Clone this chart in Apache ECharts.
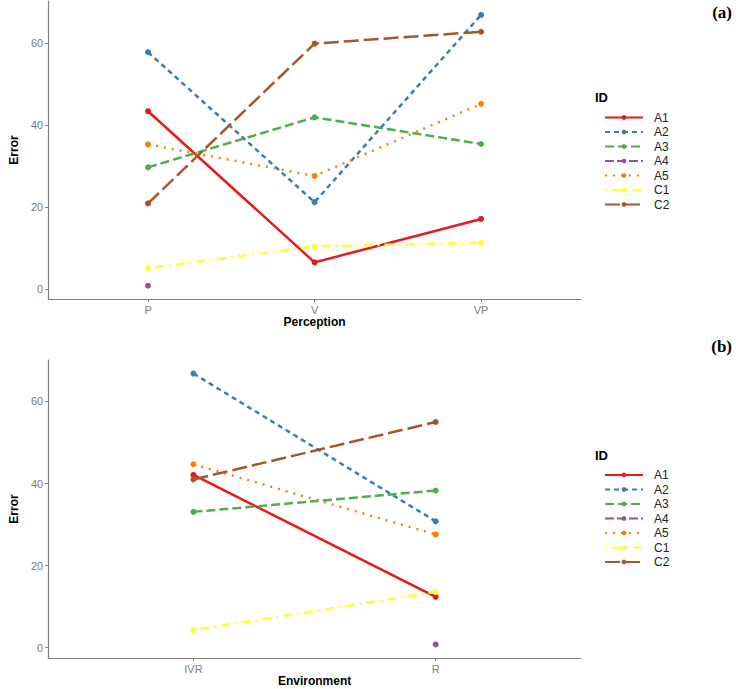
<!DOCTYPE html>
<html><head><meta charset="utf-8">
<script src="https://cdn.jsdelivr.net/npm/echarts@6/dist/echarts.min.js"></script>
<style>html,body{margin:0;padding:0;background:#fff}#c{width:736px;height:689px}</style>
</head><body><div id="c"></div>
<script>
// ---- data ----
const ids = ['A1','A2','A3','A4','A5','C1','C2'];
const perceptionCats = ['P','V','VP'];
const environmentCats = ['IVR','R'];
const errorTicks = [0, 20, 40, 60];

// Panel (a): Error by Perception (P, V, VP)
const percA1 = [43.4, 6.5, 17.1];
const percA2 = [57.8, 21.2, 66.9];
const percA3 = [29.7, 41.9, 35.4];
const percA4 = [0.8, null, null];
const percA5 = [35.3, 27.6, 45.2];
const percC1 = [5.1, 10.4, 11.3];
const percC2 = [20.9, 59.9, 62.8];

// Panel (b): Error by Environment (IVR, R)
const envA1 = [42.1, 12.4];
const envA2 = [66.8, 30.8];
const envA3 = [33.1, 38.3];
const envA4 = [null, 0.8];
const envA5 = [44.7, 27.6];
const envC1 = [4.3, 13.6];
const envC2 = [41.0, 55.0];

const percValues = [percA1, percA2, percA3, percA4, percA5, percC1, percC2];
const envValues = [envA1, envA2, envA3, envA4, envA5, envC1, envC2];

// ---- styles ----
const colors = ['#E41A1C','#377EB8','#4DAF4A','#984EA3','#FF7F00','#FFFF33','#A65628'];
const dashes = ['solid',[5,4],[9,4],[9,3],[2,6],[2,5,9,5],[15,5]];

function toPoints(vals){
  const out = [];
  vals.forEach((v,i)=>{ if(v!==null) out.push([i+1, v]); });
  return out;
}
function buildSeries(valsList, gi){
  return ids.map((id,k)=>({
    name: id, type: 'line', xAxisIndex: gi, yAxisIndex: gi,
    data: toPoints(valsList[k]),
    symbol: 'circle', symbolSize: 6, showSymbol: true, showAllSymbol: true,
    color: colors[k],
    lineStyle: {color: colors[k], width: 2.5, type: dashes[k]},
    itemStyle: {color: colors[k]},
    emphasis: {disabled: true}, animation: false, clip: false
  }));
}
function yAxis(gi, mn, mx){
  return {
    type: 'value', gridIndex: gi, min: mn, max: mx,
    name: 'Error', nameLocation: 'middle', nameGap: 21, nameRotate: 90,
    nameTextStyle: {fontFamily: 'Liberation Sans', fontWeight: 'bold', fontSize: 12, color: '#000'},
    axisLine: {show: true, lineStyle: {color: '#808080', width: 1.2}},
    axisTick: {show: true, length: 3, customValues: errorTicks, lineStyle: {color: '#808080'}},
    axisLabel: {customValues: errorTicks, margin: 5, fontFamily: 'Liberation Sans', fontSize: 11, color: '#7a7a7a'},
    splitLine: {show: false}
  };
}
function xAxis(gi, cats, title){
  const vals = cats.map((c,i)=>i+1);
  return {
    type: 'value', gridIndex: gi, min: 0.4, max: cats.length + 0.6,
    name: title, nameLocation: 'middle', nameGap: 16,
    nameTextStyle: {fontFamily: 'Liberation Sans', fontWeight: 'bold', fontSize: 12, color: '#000', verticalAlign: 'top'},
    axisLine: {show: true, onZero: false, lineStyle: {color: '#808080', width: 1.2}},
    axisTick: {show: true, length: 3, customValues: vals, lineStyle: {color: '#808080'}},
    axisLabel: {customValues: vals, margin: 5, fontFamily: 'Liberation Sans', fontSize: 11, color: '#7a7a7a',
      formatter: v => cats[Math.round(v) - 1]},
    splitLine: {show: false}
  };
}
function legend(top){
  return {
    data: ids, orient: 'vertical', left: 599, top: top,
    itemWidth: 38, itemHeight: 6, itemGap: 2.5,
    selectedMode: false,
    textStyle: {fontFamily: 'Liberation Sans', fontSize: 12, color: '#222', padding: [0,0,0,6]}
  };
}

const chart = echarts.init(document.getElementById('c'), null, {renderer: 'svg'});
chart.setOption({
  animation: false,
  backgroundColor: '#fff',
  grid: [
    {left: 39, top: 1, width: 542, height: 298},
    {left: 39, top: 360, width: 542, height: 298}
  ],
  xAxis: [xAxis(0, perceptionCats, 'Perception'), xAxis(1, environmentCats, 'Environment')],
  yAxis: [yAxis(0, -2.44, 70.3), yAxis(1, -2.5, 70.1)],
  legend: [legend(106.5), legend(464)],
  graphic: [
    {type: 'text', left: 595, top: 91, style: {text: 'ID', font: 'bold 13px "Liberation Sans"', fill: '#000'}},
    {type: 'text', left: 595, top: 449, style: {text: 'ID', font: 'bold 13px "Liberation Sans"', fill: '#000'}},
    {type: 'text', right: 4, top: 4, style: {text: '(a)', font: 'bold 17px "Liberation Serif"', fill: '#000'}},
    {type: 'text', right: 4, top: 338, style: {text: '(b)', font: 'bold 17px "Liberation Serif"', fill: '#000'}}
  ],
  series: buildSeries(percValues, 0).concat(buildSeries(envValues, 1))
});
</script></body></html>
